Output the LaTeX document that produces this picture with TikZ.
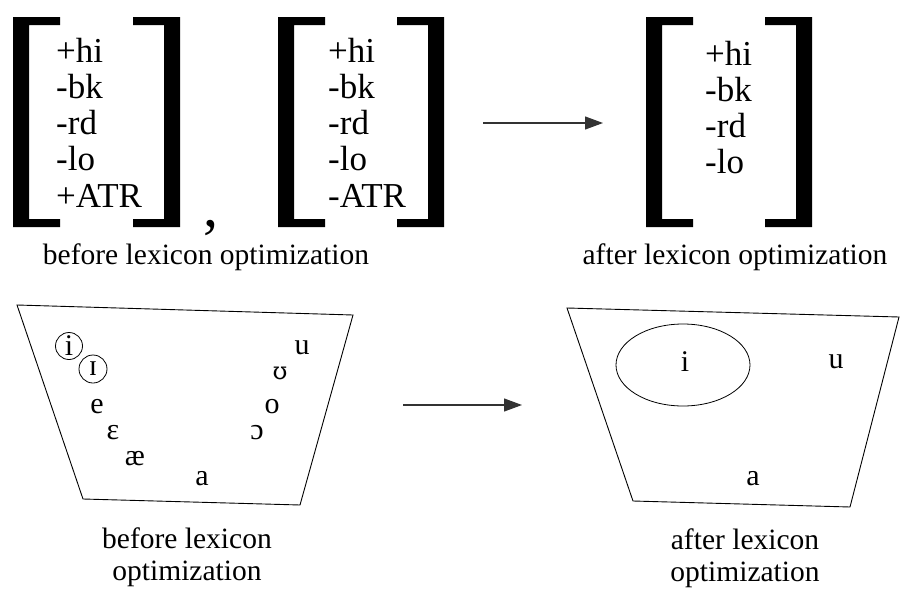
\documentclass[tikz,border=0pt]{standalone}
\usepackage{fontspec}
\setmainfont{Liberation Serif}
\newfontfamily\ipaface{DejaVu Serif}
\usetikzlibrary{arrows.meta}
\begin{document}
\begin{tikzpicture}[x=1pt,y=-1pt,
  feat/.style={anchor=base west,inner sep=0pt,font=\fontsize{35}{36}\selectfont},
  capt/.style={anchor=base,inner sep=0pt,font=\fontsize{29.5}{32}\selectfont},
  vow/.style={inner sep=0pt,font=\fontsize{30}{30}\selectfont},
  chart/.style={draw,line width=0.9pt,line join=miter},
  ring/.style={draw,line width=0.8pt},
  link/.style={draw=black!80,line width=1.2pt,-{Triangle[length=18pt,width=13pt]}},
  lbrk/.pic={\fill (0,0) rectangle (16,210) (0,0) rectangle (47,8) (0,202) rectangle (47,210);},
  rbrk/.pic={\fill (0,0) rectangle (-16,210) (0,0) rectangle (-47,8) (0,202) rectangle (-47,210);}]
\useasboundingbox (0,0) rectangle (900,589);

% feature matrices before optimization
\pic at (13,17) {lbrk};
\pic at (180,17) {rbrk};
\node[feat] (a1) at (56,62)    {+hi};
\node[feat] (a2) at (56,98.25) {-bk};
\node[feat] (a3) at (56,134.5) {-rd};
\node[feat] (a4) at (56,170.75){-lo};
\node[feat] (a5) at (56,207)   {+ATR};
\node[anchor=base,inner sep=0pt,font=\fontsize{60}{60}\selectfont] (comma) at (211,226) {,};
\pic at (278,17) {lbrk};
\pic at (444,17) {rbrk};
\node[feat] (b1) at (328,62)    {+hi};
\node[feat] (b2) at (328,98.25) {-bk};
\node[feat] (b3) at (328,134.5) {-rd};
\node[feat] (b4) at (328,170.75){-lo};
\node[feat] (b5) at (328,207)   {-ATR};
\node[capt] (capA) at (206,264) {before lexicon optimization};

% feature matrix after optimization
\coordinate (arrA0) at (483,123);
\coordinate (arrA1) at (603,123);
\draw[link] (arrA0) -- (arrA1);
\pic at (646,17) {lbrk};
\pic at (812,17) {rbrk};
\node[feat] (c1) at (705,65)    {+hi};
\node[feat] (c2) at (705,101.25){-bk};
\node[feat] (c3) at (705,137.5) {-rd};
\node[feat] (c4) at (705,173.75){-lo};
\node[capt] (capB) at (735,264) {after lexicon optimization};

% vowel space before optimization
\draw[chart] (17,305) -- (353,315) -- (300,505) -- (83,499) -- cycle;
\node[vow] (vi) at (69,346) {i};
\draw[ring] (vi.center) circle (13.5);
\node[vow] (vI) at (93,369) {ɪ};
\draw[ring] (vI.center) circle (14);
\node[vow] (ve)  at (97,407)  {e};
\node[vow] (veh) at (113,433) {ɛ};
\node[vow] (vae) at (135,459) {æ};
\node[vow] (va)  at (202,479) {a};
\node[vow] (voh) at (257,433) {ɔ};
\node[vow] (vo)  at (272,407) {o};
\node[vow,font=\ipaface\fontsize{24}{24}\selectfont] (vU) at (280,373) {ʊ};
\node[vow] (vu)  at (302,348) {u};
\node[capt] (capC1) at (187,548) {before lexicon};
\node[capt] (capC2) at (187,580) {optimization};

% vowel space after optimization
\coordinate (arrB0) at (403,405);
\coordinate (arrB1) at (522,405);
\draw[link] (arrB0) -- (arrB1);
\draw[chart] (567,308) -- (899,317) -- (850,507) -- (633,501) -- cycle;
\draw[ring] (683,365) ellipse (67 and 41);
\node[vow] (wi) at (685,362) {i};
\node[vow] (wu) at (836,362) {u};
\node[vow] (wa) at (753,479) {a};
\node[capt] (capD1) at (745,549) {after lexicon};
\node[capt] (capD2) at (745,581) {optimization};
\end{tikzpicture}
\end{document}
